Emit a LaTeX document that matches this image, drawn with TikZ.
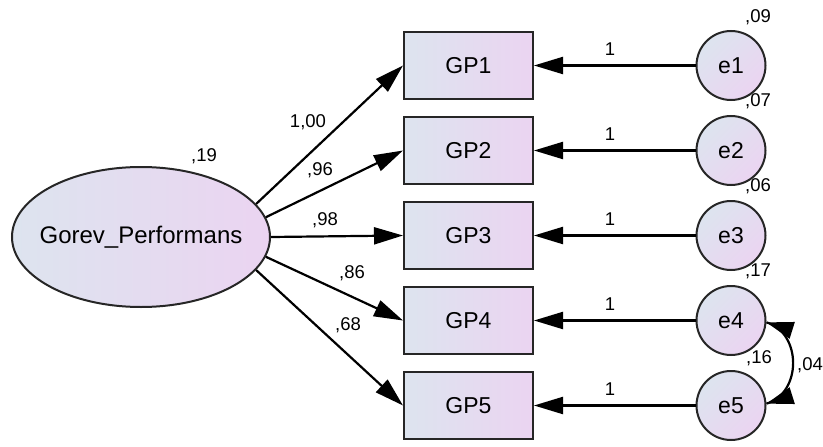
\documentclass[tikz,border=0pt]{standalone}
\usepackage{fontspec}
\setmainfont{Liberation Sans}
\usetikzlibrary{shapes.geometric,arrows.meta}
\definecolor{gleft}{HTML}{DDE4EF}
\definecolor{gright}{HTML}{EBD4F1}
\tikzset{
  obs/.style={draw=black!85,line width=2pt,minimum width=129pt,minimum height=67pt,inner sep=0pt,
    left color=gleft,right color=gright,font=\fontsize{23}{27}\selectfont},
  err/.style={draw=black!85,line width=2pt,circle,minimum size=69pt,inner sep=0pt,
    shading=axis,left color=gleft,right color=gright,shading angle=45,font=\fontsize{23}{27}\selectfont},
  lat/.style={draw=black!85,line width=2pt,ellipse,minimum width=258pt,minimum height=140pt,inner sep=0pt,
    left color=gleft,right color=gright,font=\fontsize{24}{28}\selectfont},
  lab/.style={font=\fontsize{18.5}{22}\selectfont,inner sep=0pt},
  arr/.style={line width=2.2pt,-{Triangle[length=29pt,width=17pt]}},
  tiponly/.style={line width=2.2pt,-{Triangle[length=27pt,width=17pt]}},
  covline/.style={line width=2.2pt}
}
\begin{document}
\begin{tikzpicture}[x=1pt,y=-1pt]
\useasboundingbox (0,0) rectangle (823,447);
\node[lat] (g) at (141,237) {\makebox[0pt]{Gorev\_Performans}};
\foreach \i/\y in {1/65.5,2/150.5,3/235.5,4/320.5,5/405.5}{
  \node[obs] (b\i) at (468.5,\y) {GP\i};
  \node[err] (e\i) at (731,\y) {e\i};
  \draw[arr] (e\i) -- (b\i);
  \node[lab] at (610,\y-16) {1};
}
\draw[arr] (g.16) -- (b1.west);
\draw[arr] (g.9) -- (b2.west);
\draw[arr] (g.east) -- (b3.west);
\draw[arr] (g.-9) -- (b4.west);
\draw[arr] (g.-16) -- (b5.west);
\coordinate (h4) at (791,330);
\coordinate (h5) at (791,396);
\draw[covline] (e4.-3) .. controls (802,333) and (802,393) .. (e5.3);
\draw[tiponly] (h4) -- (e4.-3);
\draw[tiponly] (h5) -- (e5.3);
\node[lab] (l19) at (204,156) {,19};
\node[lab] (l100) at (308,122) {1,00};
\node[lab] (l96) at (320,170) {,96};
\node[lab] (l98) at (325,220) {,98};
\node[lab] (l86) at (352,273) {,86};
\node[lab] (l68) at (348,325) {,68};
\node[lab] (v1) at (758,17) {,09};
\node[lab] (v2) at (758,101) {,07};
\node[lab] (v3) at (758,186) {,06};
\node[lab] (v4) at (758,271) {,17};
\node[lab] (v5) at (759,358) {,16};
\node[lab] (c45) at (810,365) {,04};
\end{tikzpicture}
\end{document}
